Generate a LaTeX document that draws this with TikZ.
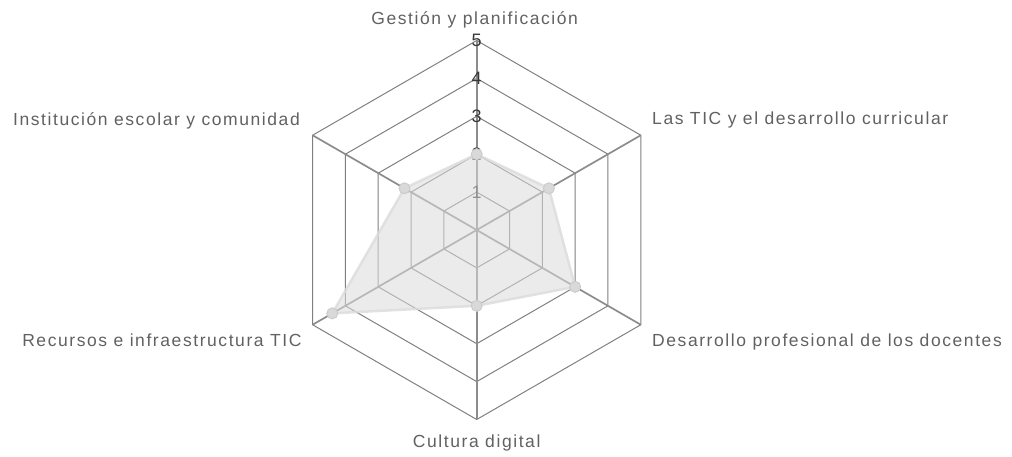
\documentclass[tikz,border=0pt]{standalone}
\usepackage{fontspec}
\setmainfont{Liberation Sans}
\newfontfamily\labfont[LetterSpace=9]{Liberation Sans}
\begin{document}
\begin{tikzpicture}[x=1pt,y=1pt,
  ring/.style={draw=black!50, line width=1pt},
  spoke/.style={draw=black!45, line width=1.7pt},
  tick/.style={inner sep=0pt, text=black!78, font=\fontsize{18}{20}\selectfont},
  axlab/.style={inner sep=0pt, text=black!62, font=\labfont\fontsize{17.5}{20}\selectfont},
  area/.style={fill=black!14, fill opacity=0.55, draw=black!14, draw opacity=0.8, line width=2.5pt, line join=round},
  dot/.style={circle, minimum size=11pt, inner sep=0pt, fill=black!15, draw=black!20, line width=1pt}
]
\useasboundingbox (-476.7,-227) rectangle (535.3,230);
\def\R{37.9}
% rings
\foreach \k in {1,...,5}
  \draw[ring] (90:\k*\R) -- (30:\k*\R) -- (-30:\k*\R) -- (-90:\k*\R) -- (-150:\k*\R) -- (150:\k*\R) -- cycle;
% spokes
\coordinate (c) at (0,0);
\foreach \a/\n in {90/a1,30/a2,-30/a3,-90/a4,-150/a5,150/a6} {
  \coordinate (\n) at (\a:5*\R);
  \draw[spoke] (c) -- (\n);
}
% tick labels
\foreach \k in {1,...,5}
  \node[tick] (t\k) at (90:\k*\R) {\k};
% data
\coordinate (p1) at (90:2*\R);
\coordinate (p2) at (30:2.2*\R);
\coordinate (p3) at (-30:3*\R);
\coordinate (p4) at (-90:2*\R);
\coordinate (p5) at (-150:4.4*\R);
\coordinate (p6) at (150:2.2*\R);
\path[area] (p1) -- (p2) -- (p3) -- (p4) -- (p5) -- (p6) -- cycle;
\foreach \n in {p1,p2,p3,p4,p5,p6}
  \node[dot] (d\n) at (\n) {};
% axis labels
\node[axlab, anchor=base] (lg) at (-2,205) {Gestión y planificación};
\node[axlab, anchor=base west] (ltic) at (175.3,105) {Las TIC y el desarrollo curricular};
\node[axlab, anchor=base west] (ldes) at (175.3,-116.7) {Desarrollo profesional de los docentes};
\node[axlab, anchor=base] (lcul) at (0,-218) {Cultura digital};
\node[axlab, anchor=base east] (lrec) at (-175,-116.7) {Recursos e infraestructura TIC};
\node[axlab, anchor=base east] (lins) at (-176.7,104) {Institución escolar y comunidad};
\end{tikzpicture}
\end{document}
